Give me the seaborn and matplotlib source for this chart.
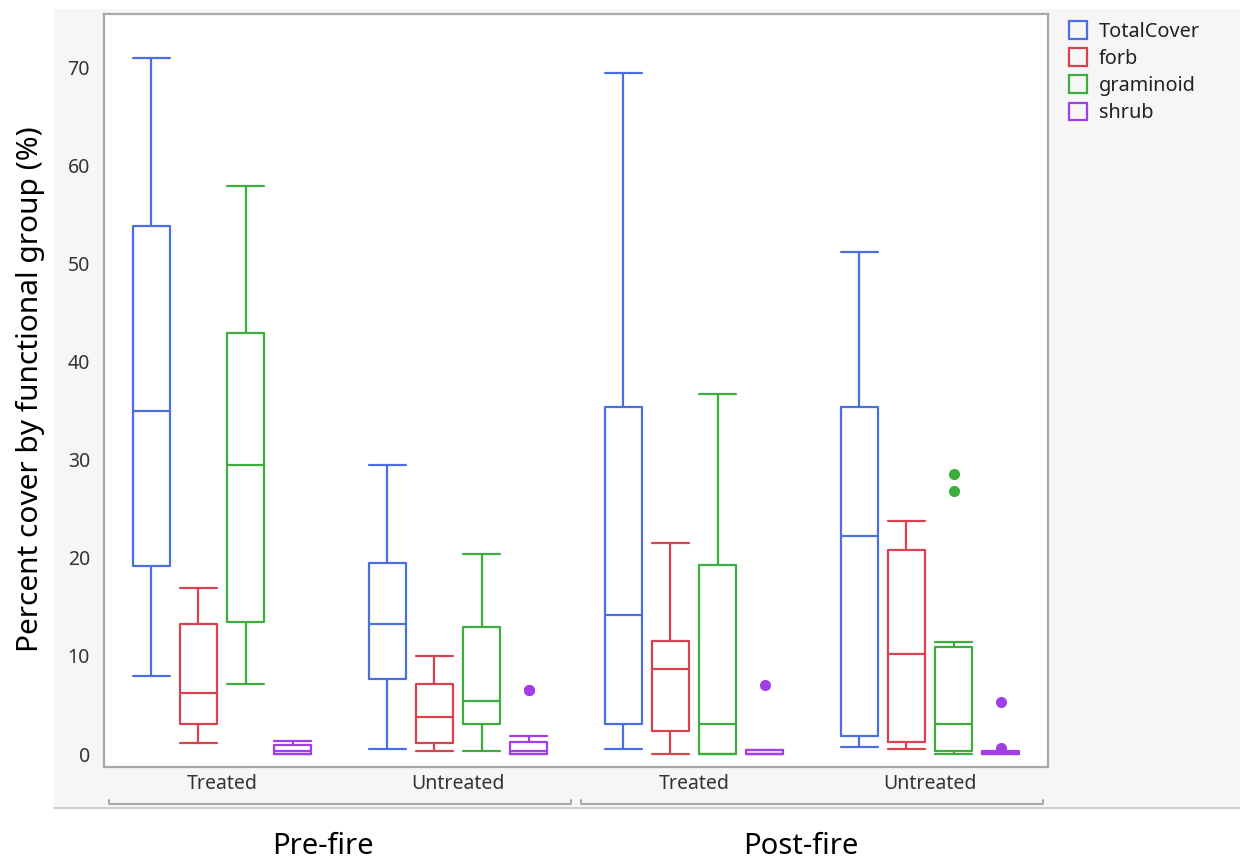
import numpy as np
import pandas as pd
import matplotlib
matplotlib.use("Agg")
import matplotlib.pyplot as plt
import matplotlib.transforms as mtransforms
from matplotlib.patches import Rectangle
from matplotlib.lines import Line2D
import seaborn as sns

# ---------------- data ----------------
groups = ["Pre-fire Treated", "Pre-fire Untreated", "Post-fire Treated", "Post-fire Untreated"]
group_ticklabels = ["Treated", "Untreated", "Treated", "Untreated"]
periods = ["Pre-fire", "Post-fire"]
types = ["TotalCover", "forb", "graminoid", "shrub"]

# five-number summaries per group: [lower whisker, Q1, median, Q3, upper whisker]
total_cover = [[8.0, 19.2, 35.0, 53.8, 70.9],
               [0.5, 7.6, 13.3, 19.5, 29.4],
               [0.5, 3.1, 14.2, 35.4, 69.4],
               [0.7, 1.8, 22.2, 35.4, 51.2]]
forb = [[1.1, 3.1, 6.2, 13.3, 16.9],
        [0.3, 1.1, 3.8, 7.1, 10.0],
        [0.0, 2.3, 8.7, 11.5, 21.5],
        [0.5, 1.2, 10.2, 20.8, 23.7]]
graminoid = [[7.1, 13.5, 29.4, 42.9, 57.9],
             [0.3, 3.1, 5.4, 12.9, 20.4],
             [0.0, 0.0, 3.1, 19.3, 36.7],
             [0.0, 0.3, 3.1, 10.9, 11.4]]
shrub = [[0.0, 0.0, 0.3, 0.9, 1.3],
         [0.0, 0.0, 0.3, 1.25, 1.8],
         [0.0, 0.0, 0.0, 0.4, 0.4],
         [0.0, 0.0, 0.1, 0.2, 0.35]]

# outlier points per group
total_cover_out = [[], [], [], []]
forb_out = [[], [], [], []]
graminoid_out = [[], [], [], [26.8, 28.5]]
shrub_out = [[], [6.5, 6.5], [7.0], [0.65, 5.3]]

colors = {"TotalCover": "#4B6FE0", "forb": "#D7424F", "graminoid": "#3DAE3D", "shrub": "#A03FE6"}

# expand each summary into a sample whose quartiles reproduce it
rows = []
for t, summ, outs in zip(types,
                         [total_cover, forb, graminoid, shrub],
                         [total_cover_out, forb_out, graminoid_out, shrub_out]):
    for g, s, o in zip(groups, summ, outs):
        lo, q1, med, q3, hi = s
        vals = [lo] + [q1] * 10 + [med] * 10 + [q3] * 10 + [hi] + list(o)
        for v in vals:
            rows.append({"group": g, "type": t, "value": v})
df = pd.DataFrame(rows)

# ---------------- figure ----------------
W, H = 1240, 865
sns.set_style("white")
plt.rcParams["font.family"] = ["Noto Sans", "DejaVu Sans"]

fig = plt.figure(figsize=(W / 100, H / 100), dpi=100)
fig.patch.set_facecolor("white")
# grey report panel
fig.patches.append(Rectangle((54 / W, 1 - 808 / H), 1 - 54 / W, (808 - 9) / H,
                             transform=fig.transFigure, facecolor="#f6f6f6",
                             edgecolor="none", zorder=-5))
fig.lines.append(Line2D([54 / W, 1], [1 - 808 / H, 1 - 808 / H], transform=fig.transFigure,
                        color="#c8c8c8", lw=1.2, zorder=-4))

ax = fig.add_axes([104 / W, 1 - 767 / H, (1048 - 104) / W, (767 - 14) / H])
ax.set_facecolor("white")

box_w = 0.2 * (1 - 0.22)
sns.boxplot(data=df, x="group", y="value", hue="type", order=groups, hue_order=types,
            palette=colors, fill=False, width=0.8, gap=0.22, whis=1.4,
            linewidth=1.6, fliersize=7, capwidths=box_w,
            flierprops=dict(marker="o"), ax=ax)

# filled outlier dots
for ln in ax.lines:
    m = ln.get_marker()
    if m not in (None, "", "None", " "):
        c = ln.get_markeredgecolor()
        ln.set_markerfacecolor(c)
        ln.set_markeredgecolor(c)

ax.set_xlim(-0.5, 3.5)
ax.set_ylim(-1.32, 75.4)
ax.set_yticks(np.arange(0, 71, 10))
ax.set_xticks(range(len(groups)))
ax.set_xticklabels(group_ticklabels)
ax.set_xlabel("")
ax.set_ylabel("")
ax.tick_params(axis="y", length=7, width=1.2, color="#a0a0a0", labelsize=14, labelcolor="#333333", pad=3)
ax.tick_params(axis="x", length=0, labelsize=14, labelcolor="#333333", pad=5)
for sp in ax.spines.values():
    sp.set_visible(True)
    sp.set_color("#a8a8a8")
    sp.set_linewidth(1.6)

# period brackets under the category labels
trans = mtransforms.blended_transform_factory(ax.transData, ax.transAxes)
for i, p in enumerate(periods):
    lo, hi = 2 * i - 0.48, 2 * i + 1 + 0.48
    ax.plot([lo, lo, hi, hi], [-0.044, -0.049, -0.049, -0.044], transform=trans,
            color="#a0a0a0", lw=1.3, clip_on=False)

# legend
sns.move_legend(ax, "upper left", bbox_to_anchor=(1055 / W, 1 - 7 / H),
                bbox_transform=fig.transFigure, frameon=False, title=None,
                fontsize=14.3, handlelength=0.9, handleheight=1.0, borderpad=0.2,
                handletextpad=0.6, labelspacing=0.33)
for txt in ax.get_legend().get_texts():
    txt.set_color("#222222")

# outer labels
fig.text(30 / W, 1 - 389 / H, "Percent cover by functional group (%)", rotation=90,
         ha="center", va="center", fontsize=21.5, color="black")
fig.text(323 / W, 1 - 847 / H, periods[0], ha="center", va="center", fontsize=21, color="black")
fig.text(801 / W, 1 - 847 / H, periods[1], ha="center", va="center", fontsize=21, color="black")

fig.savefig("out.png", dpi=100)
